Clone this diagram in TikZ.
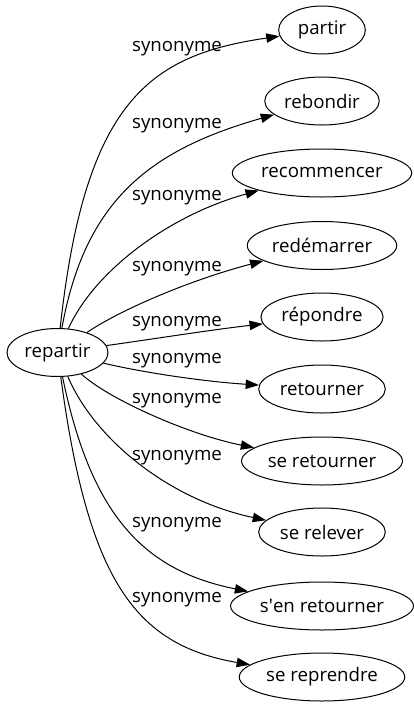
\documentclass[tikz,border=0pt]{standalone}
\usepackage{fontspec}
\setmainfont{Open Sans}
\usetikzlibrary{shapes.geometric, arrows.meta}

\begin{document}
\begin{tikzpicture}[x=0.75pt,y=-0.75pt,line width=0.75pt,
  every node/.style={font=\fontsize{14}{16}\selectfont},
  word/.style={draw,shape=ellipse,inner xsep=2pt,inner ysep=0pt,minimum height=36pt,minimum width=65pt},
  rel/.style={inner sep=0pt},
  syn/.style={-{Triangle[length=10pt,width=7pt]}}]
  \useasboundingbox (0,0) rectangle (414,707);
  \path (57.5,352.5) node[word] (repartir) {repartir}
  (322,30) node[word] (partir) {partir} (322,101) node[word] (rebondir) {rebondir}
  (322,173) node[word] (recommencer) {recommencer} (322,245.5) node[word] (redemarrer) {redémarrer}
  (322,317) node[word] (repondre) {répondre} (322,389) node[word] (retourner) {retourner}
  (322,461) node[word] (seretourner) {se retourner} (322,532) node[word] (serelever) {se relever}
  (322,606) node[word] (senretourner) {s\textquotesingle en retourner} (322,677) node[word] (sereprendre) {se reprendre};
  \path (177,49) node[rel] (s1) {synonyme} (177,126) node[rel] (s2) {synonyme}
  (177,198) node[rel] (s3) {synonyme} (177,269) node[rel] (s4) {synonyme}
  (177,324) node[rel] (s5) {synonyme} (177,361) node[rel] (s6) {synonyme}
  (177,401) node[rel] (s7) {synonyme} (177,458) node[rel] (s8) {synonyme}
  (177,525) node[rel] (s9) {synonyme} (177,600) node[rel] (s10) {synonyme};
  \draw[syn] (repartir) .. controls (85,100) and (150,55) .. (partir);
  \draw[syn] (repartir) .. controls (85,200) and (150,150) .. (rebondir);
  \draw[syn] (repartir) .. controls (95,270) and (170,215) .. (recommencer);
  \draw[syn] (repartir) .. controls (120,310) and (190,280) .. (redemarrer);
  \draw[syn] (repartir) .. controls (160,338) and (210,330) .. (repondre);
  \draw[syn] (repartir) .. controls (150,374) and (210,382) .. (retourner);
  \draw[syn] (repartir) .. controls (110,400) and (190,435) .. (seretourner);
  \draw[syn] (repartir) .. controls (95,440) and (170,500) .. (serelever);
  \draw[syn] (repartir) .. controls (90,510) and (140,570) .. (senretourner);
  \draw[syn] (repartir) .. controls (88,580) and (135,645) .. (sereprendre);
\end{tikzpicture}
\end{document}
